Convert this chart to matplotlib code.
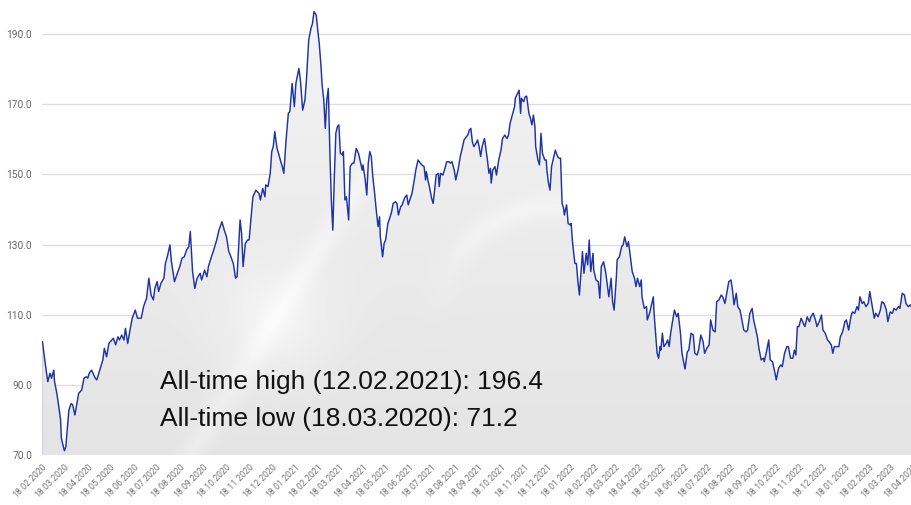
import numpy as np
import pandas as pd
import matplotlib
matplotlib.use('Agg')
import matplotlib.pyplot as plt
from matplotlib.patches import Polygon

# Price history: days after 18.02.2020 and index value
start = pd.Timestamp('2020-02-18')

days = [
    0, 3, 7, 10, 12, 15, 16, 19, 21, 24, 25, 29, 31, 32, 35, 38, 40, 43, 46, 48,
    52, 55, 58, 60, 62, 65, 70, 72, 76, 80, 82, 85, 88, 92, 94, 97, 100, 102, 105, 108,
    110, 113, 116, 119, 123, 126, 131, 134, 138, 141, 144, 147, 149, 152, 154, 157, 161, 163, 166, 169,
    171, 175, 178, 182, 185, 188, 191, 194, 196, 199, 202, 205, 209, 211, 215, 218, 220, 224, 227, 231,
    234, 238, 241, 244, 247, 249, 253, 256, 258, 262, 264, 266, 269, 272, 274, 277, 279, 283, 287, 289,
    292, 295, 296, 299, 302, 304, 306, 308, 311, 313, 316, 318, 320, 323, 326, 328, 331, 334, 336, 340,
    342, 345, 348, 350, 353, 356, 358, 360, 363, 365, 367, 369, 371, 373, 375, 377, 379, 381, 383, 385,
    387, 389, 391, 393, 395, 398, 399, 401, 403, 406, 408, 411, 413, 416, 419, 421, 424, 425, 428, 430,
    432, 434, 436, 438, 440, 443, 445, 447, 448, 451, 453, 455, 458, 461, 463, 465, 468, 470, 472, 475,
    477, 480, 483, 485, 487, 490, 493, 495, 498, 501, 503, 506, 508, 509, 511, 513, 516, 518, 520, 522,
    525, 526, 528, 531, 533, 536, 539, 541, 543, 546, 548, 551, 554, 556, 559, 562, 564, 566, 568, 570,
    572, 575, 577, 579, 581, 583, 586, 587, 590, 592, 594, 595, 597, 600, 602, 605, 608, 610, 613, 616,
    618, 620, 623, 626, 627, 630, 632, 634, 635, 638, 640, 642, 645, 647, 649, 651, 653, 654, 657, 659,
    661, 663, 666, 668, 669, 671, 673, 675, 677, 680, 683, 685, 687, 689, 691, 692, 695, 697, 700, 701,
    703, 706, 708, 710, 712, 714, 716, 718, 721, 723, 725, 727, 730, 731, 734, 737, 739, 741, 744, 747,
    749, 751, 754, 756, 758, 761, 762, 765, 768, 770, 772, 775, 777, 779, 782, 785, 787, 789, 792, 794,
    795, 798, 801, 802, 805, 807, 810, 811, 813, 815, 817, 819, 820, 822, 824, 827, 829, 831, 833, 835,
    838, 841, 843, 846, 848, 852, 855, 857, 860, 863, 865, 868, 870, 873, 876, 878, 881, 884, 886, 889,
    892, 894, 897, 900, 902, 905, 908, 910, 913, 915, 917, 920, 922, 925, 927, 930, 933, 935, 938, 941,
    943, 945, 948, 950, 953, 956, 957, 960, 963, 965, 968, 971, 973, 976, 979, 981, 984, 987, 989, 992,
    995, 997, 999, 1001, 1003, 1006, 1009, 1011, 1014, 1017, 1019, 1022, 1025, 1027, 1030, 1033, 1035, 1038, 1041, 1043,
    1046, 1048, 1050, 1053, 1056, 1058, 1061, 1064, 1066, 1069, 1072, 1074, 1077, 1080, 1082, 1084, 1087, 1089, 1092, 1095,
    1097, 1100, 1103, 1105, 1108, 1111, 1113, 1116, 1119, 1121, 1124, 1127, 1129, 1132, 1135, 1137, 1140, 1143, 1145, 1148,
    1151, 1153, 1156,
]

values = [
    102.3, 97.1, 90.9, 93.3, 91.9, 94.2, 90.9, 87.6, 84.7, 80.0, 74.8, 71.2, 72.4, 75.2, 82.8, 84.7, 84.3, 81.4, 85.2, 87.6,
    88.5, 91.9, 92.3, 91.9, 93.3, 94.2, 91.9, 91.4, 94.2, 97.1, 100.4, 98.0, 101.8, 102.8, 103.3, 101.4, 103.7, 102.8, 104.2, 102.8,
    106.1, 101.8, 105.6, 109.0, 111.3, 109.0, 109.0, 112.3, 114.7, 120.4, 115.6, 114.2, 117.5, 119.4, 116.6, 118.9, 120.4, 124.6, 127.0, 129.9,
    125.1, 119.4, 121.3, 123.7, 126.1, 126.5, 128.4, 129.4, 133.7, 122.3, 117.5, 120.4, 121.8, 119.9, 122.7, 120.8, 123.7, 126.5, 128.4, 131.3,
    134.1, 136.5, 134.1, 132.2, 128.0, 127.0, 124.6, 120.4, 120.8, 137.0, 133.2, 123.7, 130.3, 131.3, 131.3, 138.9, 143.6, 145.5, 144.6, 142.7,
    146.0, 143.6, 147.0, 146.5, 150.3, 156.5, 157.9, 162.2, 157.4, 156.0, 153.6, 152.2, 150.3, 159.8, 167.4, 167.9, 175.9, 169.3, 175.9, 180.2,
    176.9, 168.3, 171.2, 176.9, 188.3, 191.6, 193.0, 196.4, 195.4, 191.1, 187.3, 181.7, 175.0, 171.2, 163.1, 171.2, 174.5, 156.9, 142.7, 134.1,
    149.3, 161.7, 163.6, 164.1, 156.0, 155.5, 156.5, 142.7, 143.6, 137.0, 152.2, 153.2, 153.2, 157.4, 156.0, 154.1, 151.2, 152.7, 148.4, 144.1,
    153.2, 156.5, 155.1, 149.3, 145.5, 138.9, 135.1, 137.9, 132.2, 126.5, 130.3, 131.3, 136.0, 137.9, 139.4, 141.7, 142.2, 141.7, 138.4, 140.8,
    141.3, 143.2, 144.1, 141.3, 142.7, 144.6, 148.4, 151.2, 154.1, 153.2, 152.7, 152.2, 148.4, 150.8, 148.4, 146.5, 143.2, 141.7, 145.5, 149.8,
    150.3, 146.5, 150.3, 149.8, 151.2, 153.6, 153.6, 153.2, 153.6, 151.2, 148.4, 151.2, 155.1, 156.9, 159.8, 160.7, 161.2, 162.6, 163.1, 159.3,
    157.9, 158.9, 159.8, 157.9, 155.1, 157.9, 160.2, 158.9, 154.1, 150.3, 151.7, 147.5, 151.2, 152.2, 149.8, 154.1, 156.9, 160.2, 161.2, 160.2,
    161.2, 164.5, 166.9, 169.3, 171.7, 173.1, 174.0, 167.4, 171.7, 170.7, 172.1, 172.3, 167.4, 166.0, 164.1, 166.9, 163.6, 157.9, 154.1, 152.7,
    161.7, 156.0, 154.1, 154.1, 150.8, 147.5, 145.5, 152.2, 154.1, 156.9, 155.1, 154.6, 154.6, 141.7, 140.3, 138.4, 141.3, 136.0, 135.6, 136.0,
    130.3, 124.6, 124.6, 119.4, 115.6, 121.8, 128.0, 121.8, 127.5, 124.2, 131.3, 122.3, 127.5, 122.7, 119.9, 119.4, 114.7, 123.7, 125.1, 121.8,
    118.5, 115.1, 120.4, 113.7, 111.3, 120.8, 125.6, 126.5, 129.4, 129.9, 132.2, 129.4, 130.8, 127.5, 122.3, 120.4, 118.0, 120.4, 118.0, 119.9,
    115.1, 111.8, 112.3, 108.5, 110.4, 112.3, 115.1, 110.4, 104.7, 99.0, 97.6, 100.9, 99.9, 104.7, 100.9, 101.8, 102.8, 100.9, 104.7, 107.5,
    111.3, 109.4, 110.4, 104.7, 99.0, 94.5, 99.4, 99.9, 104.7, 104.2, 99.0, 98.5, 99.9, 104.2, 102.3, 99.0, 100.4, 101.4, 108.5, 105.6,
    105.1, 113.7, 114.2, 115.6, 115.1, 113.2, 117.0, 119.4, 119.9, 117.0, 112.8, 116.1, 112.3, 111.3, 109.0, 105.6, 105.1, 105.6, 110.4, 111.8,
    108.5, 106.6, 103.7, 100.4, 97.1, 97.6, 96.6, 99.4, 102.8, 97.1, 96.6, 93.7, 91.4, 94.7, 95.7, 95.2, 99.0, 100.9, 100.9, 97.6,
    97.6, 99.9, 98.5, 106.6, 106.6, 109.0, 107.5, 106.6, 109.4, 108.0, 109.4, 110.4, 108.5, 106.6, 108.0, 109.9, 105.6, 104.7, 102.8, 102.3,
    101.4, 99.0, 100.9, 100.9, 100.9, 103.7, 105.1, 108.0, 108.5, 105.6, 109.4, 110.8, 110.4, 112.3, 111.3, 115.1, 113.2, 113.7, 112.3, 113.2,
    116.6, 112.8, 109.0, 110.4, 109.4, 111.3, 113.7, 113.2, 111.3, 108.0, 110.8, 110.4, 111.8, 111.3, 112.3, 111.8, 116.1, 115.6, 113.2, 112.3,
    112.8, 111.8, 113.2,
]

y_ticks = [70, 90, 110, 130, 150, 170, 190]
ath_text = 'All-time high (12.02.2021): 196.4'
atl_text = 'All-time low (18.03.2020): 71.2'

# monthly ticks on the 18th
tick_dates = [start + pd.DateOffset(months=i) for i in range(39)]
tick_pos = [(d - start).days for d in tick_dates]
tick_labels = [d.strftime('%d.%m.%Y') for d in tick_dates]

y_min, y_max = 70, 199.7
x_min, x_max = 0, 1155

fig = plt.figure(figsize=(9.12, 5.05), dpi=100)
ax = fig.add_axes([42.5 / 912, 50 / 505, 871 / 912, 455 / 505])

# grey shaded area under the curve, with a few soft highlights
H, W = 455, 871
py, px = np.mgrid[0:H, 0:W]
px = px + 42.5
shade = 0.955 - 0.06 * (py / H)
shade += 0.045 * np.exp(-((px - 275) ** 2 + (py - 320) ** 2) / (2 * 40 ** 2))
# diagonal light streak
x1, y1, x2, y2 = 340, 215, 190, 455
d = np.abs((y2 - y1) * px - (x2 - x1) * py + x2 * y1 - y2 * x1) / np.hypot(x2 - x1, y2 - y1)
shade += 0.03 * np.exp(-d ** 2 / (2 * 9 ** 2))
# curved highlight in the middle, fading out downwards
r = np.hypot(px - 560, py - 330)
fade = 1 / (1 + np.exp((py - 270) / 18))
shade += 0.03 * np.exp(-(r - 125) ** 2 / (2 * 9 ** 2)) * fade
shade = np.clip(shade, 0, 1)
img = np.dstack([shade, shade, shade])

verts = list(zip(days, values)) + [(days[-1], y_min), (days[0], y_min)]
poly = Polygon(verts, closed=True, facecolor='none', edgecolor='none')
ax.add_patch(poly)
im = ax.imshow(img, extent=[x_min, x_max, y_min, y_max], aspect='auto',
               origin='upper', zorder=1, interpolation='bilinear')
im.set_clip_path(poly)

ax.plot([days[0], days[0]], [y_min, values[0]], color='#cfd2ea', lw=0.8, zorder=2)
ax.plot(days, values, color='#1f33a6', lw=1.05, zorder=3)

ax.set_xlim(x_min, x_max)
ax.set_ylim(y_min, y_max)

ax.set_yticks(y_ticks)
ax.set_yticklabels([f'{v:.1f}' for v in y_ticks], family='Roboto',
                   fontsize=7.3, color='#666666')
ax.set_xticks(tick_pos)
ax.set_xticklabels(tick_labels, family='Roboto', fontsize=6.3, color='#777777',
                   rotation=45, ha='right', va='top', rotation_mode='anchor')
ax.tick_params(axis='y', length=0, pad=7.5)
ax.tick_params(axis='x', length=0, pad=5)

ax.grid(axis='y', color='#dddddd', lw=0.9, zorder=0)
ax.set_axisbelow(True)
for s in ax.spines.values():
    s.set_visible(False)

fig.text(160 / 912, 1 - 389 / 505, ath_text, family='Liberation Sans',
         fontsize=19, color='#111111', va='baseline')
fig.text(160 / 912, 1 - 426 / 505, atl_text, family='Liberation Sans',
         fontsize=19, color='#111111', va='baseline')

fig.savefig('out.png', dpi=100)
